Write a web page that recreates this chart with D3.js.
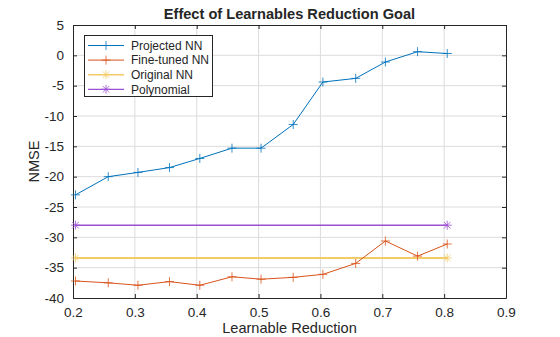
<!DOCTYPE html>
<html>
<head>
<meta charset="utf-8">
<script src="https://cdn.jsdelivr.net/npm/d3@7"></script>
<style>
  body { margin: 0; background: #fff; }
  svg text { font-family: "Liberation Sans", Arial, sans-serif; fill: #262626; }
</style>
</head>
<body>
<svg id="chart" width="560" height="337"></svg>
<script>
// learnable reduction achieved at each run
const reduction = [0.204, 0.257, 0.305, 0.356, 0.405, 0.457, 0.504, 0.556, 0.604, 0.657, 0.705, 0.757, 0.805];
const projectedNN = [-23.0, -20.0, -19.3, -18.5, -17.0, -15.3, -15.3, -11.4, -4.4, -3.8, -1.1, 0.6, 0.3];
const fineTunedNN = [-37.2, -37.5, -37.9, -37.3, -37.9, -36.5, -36.9, -36.6, -36.1, -34.3, -30.6, -33.1, -31.1];
const baselineX = [0.204, 0.805];
const originalNN = [-33.4, -33.4];
const polynomial = [-28.0, -28.0];
const xTicks = [0.2, 0.3, 0.4, 0.5, 0.6, 0.7, 0.8, 0.9];
const yTicks = [5, 0, -5, -10, -15, -20, -25, -30, -35, -40];

const series = [
  { name: "Projected NN", xs: reduction, ys: projectedNN, color: "#0072BD", marker: "plus", width: 1 },
  { name: "Fine-tuned NN", xs: reduction, ys: fineTunedNN, color: "#D95319", marker: "plus", width: 1 },
  { name: "Original NN", xs: baselineX, ys: originalNN, color: "#F3CB68", marker: "star", width: 2 },
  { name: "Polynomial", xs: baselineX, ys: polynomial, color: "#9B4FD3", marker: "star", width: 1.5 }
];

const svg = d3.select("#chart");
const pLeft = 73, pRight = 506, pTop = 25, pBottom = 298;
const x = d3.scaleLinear().domain([0.2, 0.9]).range([pLeft, pRight]);
const y = d3.scaleLinear().domain([-40, 5]).range([pBottom, pTop]);

// grid
const grid = svg.append("g").attr("stroke", "#dcdcdc").attr("stroke-width", 1);
xTicks.slice(1, -1).forEach(t => grid.append("line").attr("x1", x(t)).attr("x2", x(t)).attr("y1", pTop).attr("y2", pBottom));
yTicks.slice(1, -1).forEach(t => grid.append("line").attr("y1", y(t)).attr("y2", y(t)).attr("x1", pLeft).attr("x2", pRight));

// axes (box with inward ticks on all sides)
const tl = 4;
svg.append("g").attr("transform", `translate(0,${pBottom})`)
  .call(d3.axisBottom(x).tickValues(xTicks).tickSizeInner(-tl).tickSizeOuter(0).tickPadding(9).tickFormat(d3.format(".1f")));
svg.append("g").attr("transform", `translate(0,${pTop})`)
  .call(d3.axisTop(x).tickValues(xTicks).tickSizeInner(-tl).tickSizeOuter(0).tickFormat(""));
svg.append("g").attr("transform", `translate(${pLeft},0)`)
  .call(d3.axisLeft(y).tickValues(yTicks).tickSizeInner(-tl).tickSizeOuter(0).tickPadding(9).tickFormat(d => String(d)));
svg.append("g").attr("transform", `translate(${pRight},0)`)
  .call(d3.axisRight(y).tickValues(yTicks).tickSizeInner(-tl).tickSizeOuter(0).tickFormat(""));
svg.selectAll(".domain, .tick line").attr("stroke", "#262626");
svg.selectAll(".tick text").attr("font-size", 13.5).attr("font-family", "Liberation Sans, Arial, sans-serif").attr("fill", "#262626");

// lines and markers
function marker(g, type, cx, cy, color) {
  const r = 4.5;
  const m = g.append("g").attr("transform", `translate(${cx},${cy})`).attr("stroke", color).attr("stroke-width", 0.8);
  m.append("line").attr("x1", -r).attr("x2", r);
  m.append("line").attr("y1", -r).attr("y2", r);
  if (type === "star") {
    const d = r * 0.72;
    m.append("line").attr("x1", -d).attr("y1", -d).attr("x2", d).attr("y2", d);
    m.append("line").attr("x1", -d).attr("y1", d).attr("x2", d).attr("y2", -d);
  }
}

const line = d3.line().x(d => x(d[0])).y(d => y(d[1]));
series.slice().reverse().forEach(s => {
  const pts = s.xs.map((v, i) => [v, s.ys[i]]);
  const g = svg.append("g");
  g.append("path").datum(pts).attr("d", line).attr("fill", "none")
    .attr("stroke", s.color).attr("stroke-width", s.width);
  pts.forEach(p => marker(g, s.marker, x(p[0]), y(p[1]), s.color));
});

// title and labels
svg.append("text").attr("x", (pLeft + pRight) / 2).attr("y", 19).attr("text-anchor", "middle")
  .attr("font-size", 14.6).attr("font-weight", "bold").text("Effect of Learnables Reduction Goal");
svg.append("text").attr("x", (pLeft + pRight) / 2).attr("y", 333).attr("text-anchor", "middle")
  .attr("font-size", 14.6).text("Learnable Reduction");
svg.append("text").attr("transform", `translate(39,${(pTop + pBottom) / 2}) rotate(-90)`).attr("text-anchor", "middle")
  .attr("font-size", 14.6).text("NMSE");

// legend
const lg = svg.append("g");
lg.append("rect").attr("x", 84.5).attr("y", 35.5).attr("width", 128).attr("height", 61)
  .attr("fill", "#fff").attr("stroke", "#262626").attr("stroke-width", 1);
series.forEach((s, i) => {
  const ly = 45.5 + i * 14.6;
  lg.append("line").attr("x1", 88).attr("x2", 124).attr("y1", ly).attr("y2", ly)
    .attr("stroke", s.color).attr("stroke-width", s.width === 2 ? 1.5 : s.width === 1.5 ? 1.3 : 1);
  marker(lg, s.marker, 106, ly, s.color);
  lg.append("text").attr("x", 131).attr("y", ly + 4.3).attr("font-size", 12).text(s.name);
});
</script>
</body>
</html>
